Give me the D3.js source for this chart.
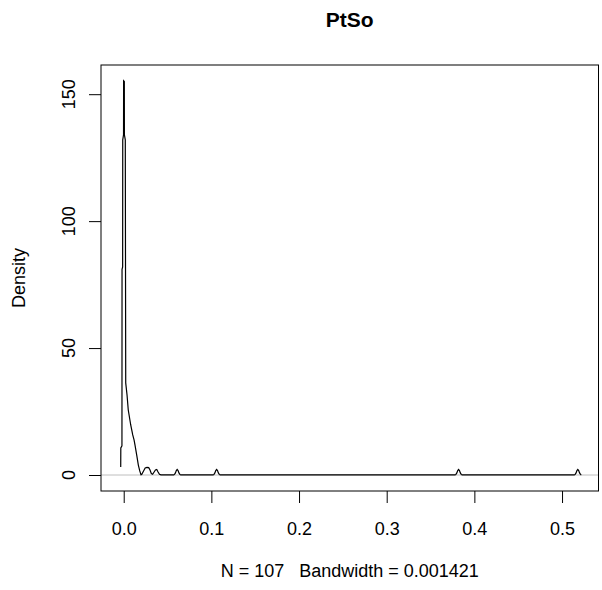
<!DOCTYPE html>
<html>
<head>
<meta charset="utf-8">
<script src="https://cdn.jsdelivr.net/npm/d3@7"></script>
<style>
  body { margin: 0; background: #fff; }
  svg text { font-family: "Liberation Sans", Arial, sans-serif; fill: #000; }
</style>
</head>
<body>
<div id="chart"></div>
<script>
// 차트 데이터
var chartTitle = "PtSo";
var xLabel = "N = 107   Bandwidth = 0.001421";
var yLabel = "Density";
var xTicks = [0, 0.1, 0.2, 0.3, 0.4, 0.5];
var yTicks = [0, 50, 100, 150];

// density curve, x values
var densX = [
  -0.0034, -0.0033, -0.0020, -0.0019, -0.0012, -0.0011, -0.0002, -0.0001, 0.0007, 0.0008,
  0.0018, 0.0023, 0.0038, 0.0052, 0.0080, 0.0103, 0.0118, 0.0129, 0.0148, 0.0167, 0.0183, 0.0197,
  0.0205, 0.0225, 0.0245, 0.0265, 0.0285, 0.0300, 0.0315, 0.0330,
  0.0345, 0.0362, 0.0377, 0.0392, 0.0408, 0.0425,
  0.057, 0.058, 0.059, 0.060, 0.061, 0.062, 0.063, 0.064, 0.065,
  0.102, 0.103, 0.104, 0.105, 0.106, 0.107, 0.108, 0.109, 0.110,
  0.378, 0.379, 0.380, 0.381, 0.382, 0.383, 0.384, 0.385, 0.386,
  0.514, 0.515, 0.516, 0.517, 0.518, 0.519, 0.520, 0.521, 0.522
];
// density curve, y values
var densY = [
  3.2, 10.7, 11.5, 81, 82, 132, 134, 155.3, 155, 134,
  132, 36.3, 31.5, 25.6, 19.7, 15.8, 13.8, 11.8, 7.9, 3.9, 1.6, 0.1,
  0.2, 1.5, 2.8, 3.0, 2.9, 2.0, 0.6, 0.3,
  1.1, 2.0, 2.2, 1.2, 0.3, 0.05,
  0.04, 0.24, 0.82, 1.72, 2.2, 1.72, 0.82, 0.24, 0.04,
  0.04, 0.24, 0.82, 1.72, 2.2, 1.72, 0.82, 0.24, 0.04,
  0.04, 0.24, 0.82, 1.72, 2.2, 1.72, 0.82, 0.24, 0.04,
  0.04, 0.24, 0.82, 1.72, 2.2, 1.72, 0.82, 0.24, 0.04
];

var width = 602, height = 590;
var plotLeft = 101, plotRight = 598.5, plotTop = 65, plotBottom = 491;

var svg = d3.select("#chart")
    .append("svg")
    .attr("width", width)
    .attr("height", height);

var xScale = d3.scaleLinear()
    .domain([-0.0259, 0.5416])
    .range([plotLeft, plotRight]);

var yScale = d3.scaleLinear()
    .domain([-6.3, 161.5])
    .range([plotBottom, plotTop]);

// 기준선 (y = 0)
svg.append("line")
    .attr("x1", plotLeft).attr("x2", plotRight)
    .attr("y1", yScale(0)).attr("y2", yScale(0))
    .attr("stroke", "#bebebe")
    .attr("stroke-width", 1);

// 밀도 곡선
var line = d3.line()
    .x(function(d) { return xScale(d[0]); })
    .y(function(d) { return yScale(d[1]); });

svg.append("path")
    .datum(d3.zip(densX, densY))
    .attr("d", line)
    .attr("fill", "none")
    .attr("stroke", "#000")
    .attr("stroke-width", 1.2);

// plot box
svg.append("rect")
    .attr("x", plotLeft).attr("y", plotTop)
    .attr("width", plotRight - plotLeft).attr("height", plotBottom - plotTop)
    .attr("fill", "none")
    .attr("stroke", "#000")
    .attr("stroke-width", 1);

// x axis
var xAxis = d3.axisBottom(xScale)
    .tickValues(xTicks)
    .tickFormat(d3.format(".1f"))
    .tickSize(12)
    .tickPadding(19);

var gx = svg.append("g")
    .attr("transform", "translate(0," + plotBottom + ")")
    .call(xAxis);
gx.select(".domain").remove();
gx.selectAll("text").style("font-size", "18px").attr("fill", "#000");

// y axis
var yAxis = d3.axisLeft(yScale)
    .tickValues(yTicks)
    .tickSize(12);

var gy = svg.append("g")
    .attr("transform", "translate(" + plotLeft + ",0)")
    .call(yAxis);
gy.select(".domain").remove();
gy.selectAll("text").remove();

// y tick labels, rotated like R
svg.selectAll(".ylab")
    .data(yTicks)
    .enter()
    .append("text")
    .attr("class", "ylab")
    .attr("text-anchor", "middle")
    .style("font-size", "18px")
    .attr("transform", function(d) { return "translate(75," + yScale(d) + ") rotate(-90)"; })
    .text(function(d) { return d; });

// titles
svg.append("text")
    .attr("x", (plotLeft + plotRight) / 2)
    .attr("y", 27)
    .attr("text-anchor", "middle")
    .style("font-size", "21px")
    .style("font-weight", "bold")
    .text(chartTitle);

svg.append("text")
    .attr("x", (plotLeft + plotRight) / 2)
    .attr("y", 577)
    .attr("text-anchor", "middle")
    .style("font-size", "18px")
    .style("white-space", "pre")
    .text(xLabel);

svg.append("text")
    .attr("text-anchor", "middle")
    .style("font-size", "18px")
    .attr("transform", "translate(25," + (plotTop + plotBottom) / 2 + ") rotate(-90)")
    .text(yLabel);
</script>
</body>
</html>
